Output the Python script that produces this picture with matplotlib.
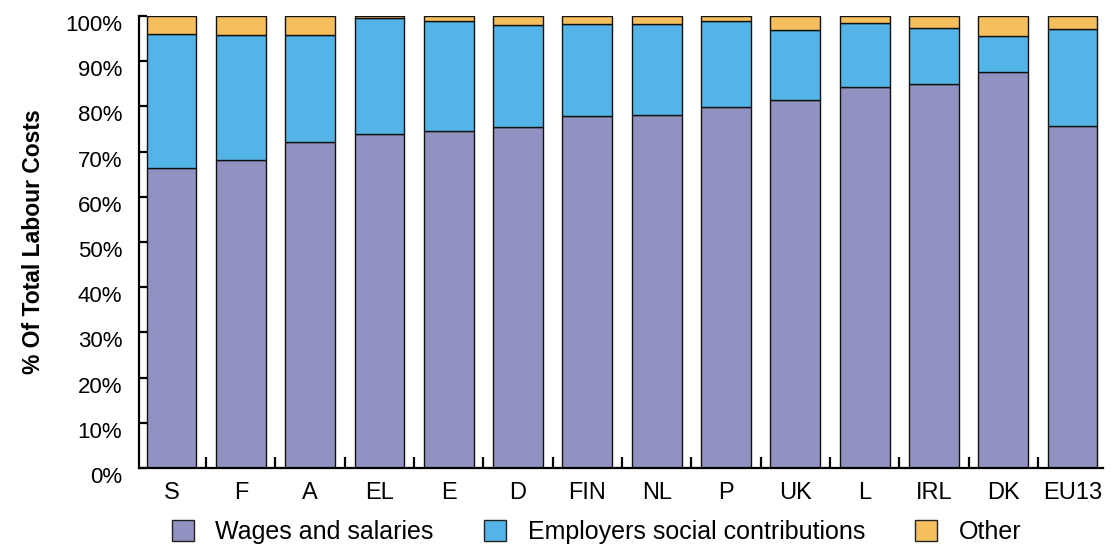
import numpy as np
import matplotlib.pyplot as plt
import matplotlib.transforms as mtransforms
from matplotlib.patches import Patch

countries = ['S', 'F', 'A', 'EL', 'E', 'D', 'FIN', 'NL', 'P', 'UK', 'L', 'IRL', 'DK', 'EU13']
wages = [66.4, 68.1, 72.1, 74.0, 74.5, 75.4, 77.8, 78.0, 79.8, 81.5, 84.2, 85.0, 87.7, 75.7]
employers = [29.6, 27.6, 23.6, 25.6, 24.4, 22.6, 20.5, 20.3, 19.2, 15.5, 14.2, 12.4, 7.9, 21.5]
other = [4.0, 4.3, 4.3, 0.4, 1.1, 2.0, 1.7, 1.7, 1.0, 3.0, 1.6, 2.6, 4.4, 2.8]
series_names = ['Wages and salaries', 'Employers social contributions', 'Other']
colors = ['#9191c2', '#55b4e7', '#f5bf5d']

plt.rcParams['font.family'] = ['Liberation Sans', 'DejaVu Sans']

fig = plt.figure(figsize=(11.17, 5.48), dpi=100)
ax = fig.add_axes([0.1244, 0.146, 0.8631, 0.8248])

x = np.arange(len(countries))
w = np.array(wages)
e = np.array(employers)
o = np.array(other)
ax.bar(x, w, width=0.72, color=colors[0], edgecolor='#111111', linewidth=1)
ax.bar(x, e, width=0.72, bottom=w, color=colors[1], edgecolor='#111111', linewidth=1)
ax.bar(x, o, width=0.72, bottom=w + e, color=colors[2], edgecolor='#111111', linewidth=1)

ax.set_xlim(-0.47, len(countries) - 0.56)
ax.set_ylim(0, 100)

# y axis, labels sit a bit below their ticks like the original
ax.set_yticks(np.arange(0, 101, 10))
ax.set_yticklabels([f'{v}%' for v in range(0, 101, 10)], fontsize=16)
ax.tick_params(axis='y', direction='in', length=6, width=1.6, pad=12)
offset = mtransforms.ScaledTranslation(0, -7 / 100, fig.dpi_scale_trans)
for lab in ax.get_yticklabels():
    lab.set_transform(lab.get_transform() + offset)
ax.set_ylabel('% Of Total Labour Costs', fontsize=16.5, fontweight='bold')
ax.yaxis.set_label_coords(-0.097, 0.5)

# x axis: category labels, boundary ticks
ax.set_xticks(x)
ax.set_xticklabels(countries, fontsize=17)
ax.tick_params(axis='x', which='major', length=0, pad=10)
ax.set_xticks(x[:-1] + 0.5, minor=True)
ax.tick_params(axis='x', which='minor', direction='in', length=8, width=1.6)

for side in ['top', 'right']:
    ax.spines[side].set_visible(False)
for side in ['left', 'bottom']:
    ax.spines[side].set_linewidth(1.6)

handles = [Patch(facecolor=c, edgecolor='#222222', linewidth=1) for c in colors]
fig.legend(handles, series_names, loc='center', bbox_to_anchor=(0.534, 0.029),
           ncol=3, frameon=False, fontsize=18, handlelength=0.9, handleheight=0.9,
           handletextpad=0.85, columnspacing=2.0, borderpad=0.1)

fig.savefig('out.png', dpi=100)
